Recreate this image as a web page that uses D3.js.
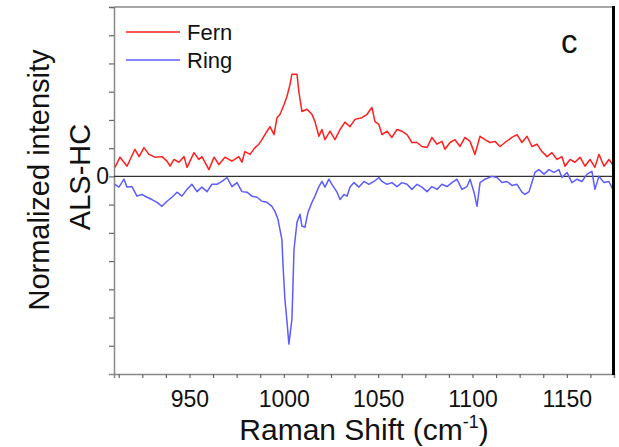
<!DOCTYPE html>
<html>
<head>
<meta charset="utf-8">
<script src="https://cdn.jsdelivr.net/npm/d3@7"></script>
<style>
  body { margin: 0; background: #fff; }
  svg text { font-family: "Liberation Sans", Arial, sans-serif; fill: #111; }
</style>
</head>
<body>
<div id="chart"></div>
<script>
// Raman spectra (ALS-HC)
var fernShift = [910.5, 913.2, 916.9, 921.1, 923.3, 925.9, 928.5, 931.7, 935.4, 938.1, 939.7, 941.8, 944.4, 947.1, 948.7,
    952.4, 955.0, 956.6, 960.3, 963.0, 965.6, 968.8, 972.5, 976.2, 977.8, 979.4, 982.1, 984.7, 986.8, 988.4, 991.1, 992.7,
    994.8, 996.4, 998.0, 1000.1, 1001.7, 1003.3, 1004.3, 1007.0, 1008.0, 1009.6, 1012.3, 1014.9, 1016.5, 1018.6, 1020.2,
    1021.8, 1024.5, 1027.1, 1029.8, 1032.4, 1035.1, 1037.7, 1041.4, 1044.1, 1046.7, 1048.3, 1050.4, 1052.0, 1054.7, 1057.3,
    1060.0, 1062.6, 1065.3, 1067.9, 1070.6, 1073.2, 1075.9, 1078.5, 1081.2, 1083.8, 1085.4, 1088.1, 1090.7, 1093.4, 1096.0,
    1098.7, 1101.3, 1104.0, 1106.6, 1109.3, 1111.9, 1114.6, 1117.2, 1120.9, 1123.6, 1126.2, 1128.9, 1131.5, 1134.2, 1136.8,
    1139.5, 1142.1, 1144.8, 1147.4, 1149.0, 1151.7, 1154.3, 1157.0, 1159.6, 1162.3, 1164.9, 1167.0, 1169.7, 1172.3, 1175.0];
var fernValues = [0.16, 0.34, 0.18, 0.48, 0.35, 0.51, 0.39, 0.34, 0.35, 0.27, 0.18, 0.30, 0.25, 0.35, 0.16,
    0.42, 0.30, 0.35, 0.12, 0.34, 0.21, 0.34, 0.27, 0.35, 0.25, 0.44, 0.39, 0.51, 0.57, 0.65, 0.80, 0.88,
    0.74, 1.04, 1.10, 1.27, 1.42, 1.63, 1.81, 1.81, 1.49, 1.15, 1.19, 1.10, 0.97, 0.71, 0.83,
    0.65, 0.80, 0.65, 0.83, 0.96, 0.88, 1.01, 1.04, 1.10, 1.22, 0.97, 0.92, 0.74, 0.80, 0.69,
    0.83, 0.80, 0.74, 0.60, 0.60, 0.53, 0.51, 0.69, 0.57, 0.62, 0.48, 0.60, 0.65, 0.53, 0.69,
    0.62, 0.39, 0.71, 0.65, 0.60, 0.62, 0.53, 0.60, 0.69, 0.74, 0.60, 0.71, 0.53, 0.57, 0.44,
    0.35, 0.42, 0.30, 0.35, 0.18, 0.30, 0.25, 0.34, 0.18, 0.30, 0.16, 0.39, 0.18, 0.30, 0.18];

var ringShift = [910.5, 912.6, 915.3, 916.9, 919.5, 922.2, 924.8, 927.5, 930.1, 932.8, 935.4, 938.1, 940.7, 943.4, 946.0,
    948.7, 951.3, 954.0, 956.6, 959.3, 961.9, 964.6, 967.2, 969.9, 972.5, 975.2, 977.8, 980.5, 983.1, 985.8, 988.4, 991.1,
    993.7, 995.3, 996.9, 999.0, 999.6, 1000.6, 1001.7, 1002.7, 1004.3, 1004.9, 1005.4, 1007.0, 1008.6, 1009.6, 1011.2,
    1012.8, 1014.9, 1016.5, 1018.6, 1020.2, 1021.8, 1023.9, 1025.5, 1028.2, 1029.8, 1031.9, 1033.5, 1035.1, 1037.2, 1039.8,
    1042.5, 1045.1, 1047.8, 1050.4, 1052.0, 1054.7, 1057.3, 1060.0, 1062.6, 1065.3, 1067.9, 1070.6, 1073.2, 1075.9, 1078.5,
    1081.2, 1083.8, 1086.5, 1089.1, 1091.8, 1094.4, 1097.1, 1098.7, 1100.8, 1102.4, 1104.0, 1106.6, 1110.3, 1113.0, 1115.6,
    1118.3, 1120.9, 1123.6, 1126.2, 1127.8, 1130.0, 1131.5, 1133.1, 1135.2, 1137.9, 1140.5, 1143.2, 1145.8, 1147.4, 1150.1,
    1152.7, 1155.4, 1158.0, 1160.7, 1163.3, 1164.9, 1167.0, 1169.7, 1172.3, 1175.0];
var ringValues = [-0.14, -0.19, -0.05, -0.19, -0.18, -0.35, -0.32, -0.37, -0.41, -0.46, -0.53, -0.44, -0.37, -0.28, -0.35,
    -0.23, -0.14, -0.27, -0.19, -0.27, -0.14, -0.14, -0.09, -0.02, -0.18, -0.11, -0.27, -0.28, -0.35, -0.37, -0.44, -0.46,
    -0.53, -0.62, -0.76, -1.12, -1.59, -2.18, -2.58, -2.97, -2.53, -1.88, -1.29, -0.81, -0.67, -0.88, -0.90,
    -0.64, -0.46, -0.35, -0.18, -0.09, -0.19, -0.05, -0.14, -0.28, -0.41, -0.32, -0.35, -0.19, -0.11, -0.19,
    -0.09, -0.14, -0.09, -0.02, -0.09, -0.14, -0.11, -0.18, -0.11, -0.14, -0.23, -0.14, -0.19, -0.27, -0.18,
    -0.23, -0.14, -0.18, -0.11, -0.05, -0.23, -0.18, -0.05, -0.28, -0.53, -0.11, -0.05, 0.00, -0.02, -0.11,
    -0.09, -0.16, -0.14, -0.28, -0.32, -0.27, -0.11, 0.07, 0.12, 0.04, 0.12, 0.07, 0.12, -0.02, 0.07,
    -0.11, -0.05, -0.09, 0.04, 0.09, -0.23, 0.00, -0.11, -0.09, -0.27];

var seriesNames = ["Fern", "Ring"];
var seriesColors = ["#ff1f1f", "#5c5cff"];
var xTicks = [950, 1000, 1050, 1100, 1150];

var width = 619, height = 447;
var margin = { left: 114, right: 5, top: 7, bottom: 73 };

var svg = d3.select("#chart").append("svg")
    .attr("width", width)
    .attr("height", height);

var x = d3.scaleLinear().domain([910, 1175]).range([margin.left, width - margin.right]);
var y = d3.scaleLinear().domain([-3.5, 3]).range([height - margin.bottom, margin.top]);

// Frame: gray top/left/bottom, thick black right edge
svg.append("line")
    .attr("x1", x(910)).attr("x2", x(1175))
    .attr("y1", y(3)).attr("y2", y(3))
    .attr("stroke", "#888").attr("stroke-width", 1.5);

// Bottom axis with minor ticks every 12.5
var xAxis = d3.axisBottom(x)
    .tickValues(d3.range(912.5, 1175, 12.5))
    .tickSize(4)
    .tickFormat(d => xTicks.indexOf(d) >= 0 ? d : "");
var gx = svg.append("g")
    .attr("transform", "translate(0," + y(-3.5) + ")")
    .call(xAxis);
gx.select(".domain").attr("stroke", "#888").attr("stroke-width", 1.5);
gx.selectAll(".tick line").attr("stroke", "#666").attr("stroke-width", 1.2);
gx.selectAll(".tick text")
    .attr("dy", 0).attr("y", 33)
    .attr("font-size", "23px")
    .attr("font-family", "Liberation Sans, Arial, sans-serif")
    .attr("fill", "#111");

// Left axis, ticks every 0.5, only 0 labelled
var yAxis = d3.axisLeft(y)
    .tickValues(d3.range(-3, 3.01, 0.5))
    .tickSize(5)
    .tickFormat(d => d === 0 ? "0" : "");
var gy = svg.append("g")
    .attr("transform", "translate(" + x(910) + ",0)")
    .call(yAxis);
gy.select(".domain").attr("stroke", "#888").attr("stroke-width", 1.5);
gy.selectAll(".tick line").attr("stroke", "#666").attr("stroke-width", 1.2);
gy.selectAll(".tick text")
    .attr("x", -5)
    .attr("font-size", "23px")
    .attr("font-family", "Liberation Sans, Arial, sans-serif")
    .attr("fill", "#111");

// zero line
svg.append("line")
    .attr("x1", x(910)).attr("x2", x(1175))
    .attr("y1", y(0)).attr("y2", y(0))
    .attr("stroke", "#333").attr("stroke-width", 1.2);

// spectra
var line = d3.line()
    .x(d => x(d[0]))
    .y(d => y(d[1]));

var series = [d3.zip(fernShift, fernValues), d3.zip(ringShift, ringValues)];
series.forEach(function (pts, i) {
    svg.append("path")
        .datum(pts)
        .attr("d", line)
        .attr("fill", "none")
        .attr("stroke", seriesColors[i])
        .attr("stroke-width", 1.5)
        .attr("stroke-linejoin", "round");
});

svg.append("line")
    .attr("x1", x(1175) - 0.5).attr("x2", x(1175) - 0.5)
    .attr("y1", y(3) - 1).attr("y2", y(-3.5) + 1)
    .attr("stroke", "#000").attr("stroke-width", 3);

// Legend
seriesNames.forEach(function (name, i) {
    var ly = 32 + i * 28;
    svg.append("line")
        .attr("x1", 126).attr("x2", 180)
        .attr("y1", ly).attr("y2", ly)
        .attr("stroke", seriesColors[i])
        .attr("stroke-width", 1.5);
    svg.append("text")
        .attr("x", 187).attr("y", ly + 8)
        .attr("font-size", "22px")
        .text(name);
});

// panel letter
svg.append("text")
    .attr("x", 561).attr("y", 53)
    .attr("font-size", "33px")
    .text("c");

// axis titles
svg.append("text")
    .attr("x", x(1042.5)).attr("y", 440)
    .attr("text-anchor", "middle")
    .attr("font-size", "30px")
    .text("Raman Shift (cm")
    .append("tspan").attr("font-size", "18px").attr("dy", -12).text("-1")
    .select(function () { return this.parentNode; })
    .append("tspan").attr("font-size", "30px").attr("dy", 12).text(")");

svg.append("text")
    .attr("transform", "translate(49,180) rotate(-90)")
    .attr("text-anchor", "middle")
    .attr("font-size", "29px")
    .text("Normalized intensity");
svg.append("text")
    .attr("transform", "translate(90,177) rotate(-90)")
    .attr("text-anchor", "middle")
    .attr("font-size", "29px")
    .text("ALS-HC");
</script>
</body>
</html>
